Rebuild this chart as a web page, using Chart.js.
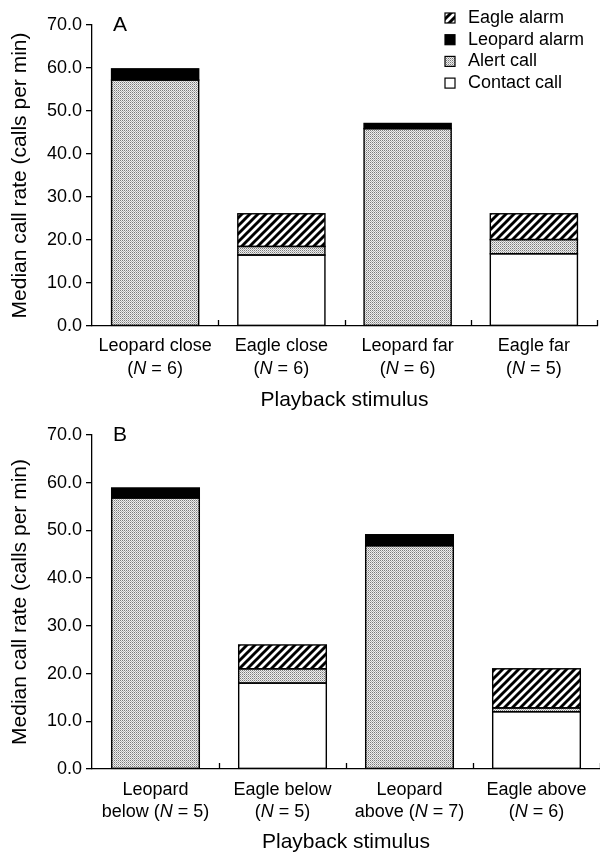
<!DOCTYPE html>
<html>
<head>
<meta charset="utf-8">
<script src="https://cdn.jsdelivr.net/npm/chart.js@4.4.1/dist/chart.umd.min.js"></script>
<style>
  body { margin: 0; background: #fff; }
  canvas { display: block; }
</style>
</head>
<body>
<canvas id="chartA" width="600" height="420"></canvas>
<canvas id="chartB" width="600" height="435"></canvas>
<script>
const FONT = "'Liberation Sans', Arial, Helvetica, sans-serif";

// stacked from bottom to top
const seriesNames = ["Contact call", "Alert call", "Leopard alarm", "Eagle alarm"];

// Panel A - distance of the playback
const labelsA = [["Leopard close", "(N = 6)"], ["Eagle close", "(N = 6)"], ["Leopard far", "(N = 6)"], ["Eagle far", "(N = 5)"]];
const contactA = [0, 16.5, 0, 16.8];
const alertA = [57.2, 2.0, 45.9, 3.3];
const leopardA = [2.6, 0, 1.2, 0];
const eagleA = [0, 7.6, 0, 6.0];

// Panel B - height of the playback
const labelsB = [["Leopard", "below (N = 5)"], ["Eagle below", "(N = 5)"], ["Leopard", "above (N = 7)"], ["Eagle above", "(N = 6)"]];
const contactB = [0, 18.0, 0, 12.0];
const alertB = [56.8, 3.0, 46.8, 0.8];
const leopardB = [2.1, 0, 2.3, 0];
const eagleB = [0, 5.0, 0, 8.2];

// fine dotted fill for alert calls
function makeStipple() {
  const c = document.createElement("canvas");
  c.width = 2;
  c.height = 2;
  const g = c.getContext("2d");
  g.fillStyle = "#eeeeee";
  g.fillRect(0, 0, 2, 2);
  g.fillStyle = "#7a7a7a";
  g.fillRect(0, 0, 1, 1);
  g.fillStyle = "#b0b0b0";
  g.fillRect(1, 1, 1, 1);
  return g.createPattern(c, "repeat");
}

// diagonal stripes for eagle alarms
function makeHatch() {
  const s = 8;
  const c = document.createElement("canvas");
  c.width = s;
  c.height = s;
  const g = c.getContext("2d");
  g.fillStyle = "#fff";
  g.fillRect(0, 0, s, s);
  g.strokeStyle = "#000";
  g.lineWidth = 2.9;
  g.beginPath();
  g.moveTo(-2, s + 2); g.lineTo(s + 2, -2);
  g.moveTo(-2, 2); g.lineTo(2, -2);
  g.moveTo(s - 2, s + 2); g.lineTo(s + 2, s - 2);
  g.stroke();
  return g.createPattern(c, "repeat");
}

const fills = ["#ffffff", makeStipple(), "#000000", makeHatch()];

function buildDatasets(contact, alert, leopard, eagle) {
  return [contact, alert, leopard, eagle].map((data, i) => ({
    label: seriesNames[i],
    // empty segments are left out so they draw no outline
    data: data.map((v) => (v === 0 ? null : v)),
    backgroundColor: fills[i],
    borderWidth: 0,
    inflateAmount: 0,
    barPercentage: 0.69,
    categoryPercentage: 1,
  }));
}

// text with an italic N
function drawMixed(ctx, text, cx, y) {
  const parts = text.split(/\b(N)\b/).filter((p) => p !== "");
  const fonts = parts.map((p) => (p === "N" ? `italic 18px ${FONT}` : `18px ${FONT}`));
  const widths = parts.map((p, i) => {
    ctx.font = fonts[i];
    return ctx.measureText(p).width;
  });
  let x = cx - widths.reduce((a, b) => a + b, 0) / 2;
  ctx.textAlign = "left";
  parts.forEach((p, i) => {
    ctx.font = fonts[i];
    ctx.fillText(p, x, y);
    x += widths[i];
  });
}

const decorPlugin = {
  id: "decor",
  // black outline round every bar segment
  afterDatasetsDraw(chart) {
    const ctx = chart.ctx;
    ctx.save();
    ctx.strokeStyle = "#000";
    ctx.lineWidth = 1.4;
    chart.data.datasets.forEach((ds, d) => {
      const meta = chart.getDatasetMeta(d);
      meta.data.forEach((bar, i) => {
        if (ds.data[i] === null) return;
        const p = bar.getProps(["x", "y", "base", "width"], true);
        const top = Math.min(p.y, p.base);
        ctx.strokeRect(p.x - p.width / 2, top, p.width, Math.abs(p.base - p.y));
      });
    });
    ctx.restore();
  },
  afterDraw(chart, args, opts) {
    const ctx = chart.ctx;
    const xs = chart.scales.x;
    const area = chart.chartArea;
    const n = chart.data.labels.length;
    const half = (xs.getPixelForValue(1) - xs.getPixelForValue(0)) / 2;
    ctx.save();

    // small inward ticks between the categories
    ctx.strokeStyle = "#000";
    ctx.lineWidth = 1.3;
    ctx.beginPath();
    for (let i = 0; i < n; i++) {
      const bx = Math.round(xs.getPixelForValue(i) + half) + 0.5;
      ctx.moveTo(bx, area.bottom);
      ctx.lineTo(bx, area.bottom - 6);
    }
    ctx.stroke();

    // category labels
    ctx.fillStyle = "#000";
    ctx.textBaseline = "middle";
    chart.data.labels.forEach((lines, i) => {
      const cx = xs.getPixelForValue(i);
      lines.forEach((line, j) => drawMixed(ctx, line, cx, area.bottom + opts.lineOffsets[j]));
    });

    // panel letter
    ctx.font = `21px ${FONT}`;
    ctx.textAlign = "center";
    ctx.fillText(opts.letter, area.left + 28, area.top);

    // legend, top item first
    if (opts.legend) {
      const rows = chart.data.datasets.slice().reverse();
      rows.forEach((ds, k) => {
        const y = 18 + k * 21.7;
        ctx.fillStyle = ds.backgroundColor;
        ctx.fillRect(445, y - 5, 10, 10);
        ctx.strokeStyle = "#000";
        ctx.lineWidth = 1.2;
        ctx.strokeRect(445, y - 5, 10, 10);
        ctx.fillStyle = "#000";
        ctx.font = `18px ${FONT}`;
        ctx.textAlign = "left";
        ctx.fillText(ds.label, 468, y);
      });
    }
    ctx.restore();
  },
};

function makeChart(id, labels, datasets, cfg) {
  const ctx = document.getElementById(id).getContext("2d");
  return new Chart(ctx, {
    type: "bar",
    data: { labels: labels, datasets: datasets },
    plugins: [decorPlugin],
    options: {
      responsive: false,
      animation: false,
      layout: { padding: { top: cfg.top, right: cfg.right, left: 0, bottom: 0 } },
      scales: {
        x: {
          stacked: true,
          offset: true,
          ticks: { display: false },
          grid: { display: false },
          border: { color: "#000", width: 1.3 },
          title: {
            display: true,
            text: "Playback stimulus",
            color: "#000",
            font: { size: 21, family: FONT },
            padding: { top: 0, bottom: cfg.titlePad },
          },
          afterFit(scale) {
            scale.height = cfg.xHeight;
          },
        },
        y: {
          stacked: true,
          min: 0,
          max: 70,
          ticks: {
            stepSize: 10,
            color: "#000",
            padding: 4,
            font: { size: 18, family: FONT },
            callback: (v) => v.toFixed(1),
          },
          grid: { drawOnChartArea: false, drawTicks: true, tickLength: 6, color: "#000", lineWidth: 1.3 },
          border: { color: "#000", width: 1.3 },
          title: {
            display: true,
            text: "Median call rate (calls per min)",
            color: "#000",
            font: { size: 21, family: FONT },
            padding: { top: 8, bottom: 0 },
          },
          afterFit(scale) {
            scale.width = 92;
          },
        },
      },
      plugins: {
        legend: { display: false },
        tooltip: { enabled: false },
        decor: { letter: cfg.letter, legend: cfg.legend, lineOffsets: cfg.lineOffsets },
      },
    },
  });
}

makeChart("chartA", labelsA, buildDatasets(contactA, alertA, leopardA, eagleA), {
  letter: "A", legend: true, top: 25, right: 3, xHeight: 94, titlePad: 7, lineOffsets: [20, 43],
});
makeChart("chartB", labelsB, buildDatasets(contactB, alertB, leopardB, eagleB), {
  letter: "B", legend: false, top: 15, right: 0, xHeight: 86, titlePad: 0, lineOffsets: [21, 43],
});
</script>
</body>
</html>
